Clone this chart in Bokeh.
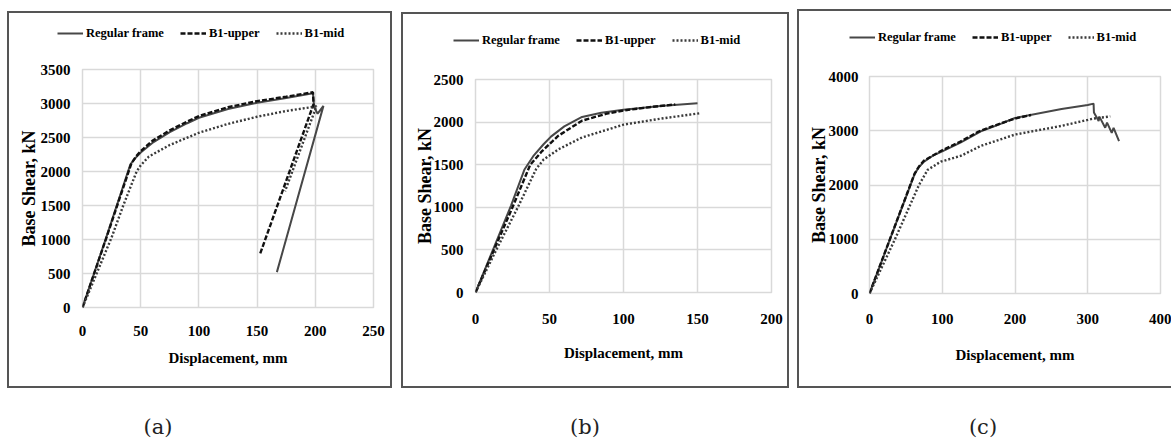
from bokeh.plotting import figure
from bokeh.models import Range1d, FixedTicker, Legend, LegendItem, Div
from bokeh.layouts import column, row
from bokeh.embed import file_html
from bokeh.resources import INLINE

# ---------------- data ----------------
series_names = ["Regular frame", "B1-upper", "B1-mid"]
x_title = "Displacement, mm"
y_title = "Base Shear, kN"
panel_labels = ["(a)", "(b)", "(c)"]

# panel (a)
a_regular_x = [0, 20, 41, 45, 50, 60, 75, 90, 100, 125, 150, 175, 198, 199, 202, 207, 167]
a_regular_y = [0, 1010, 2100, 2190, 2280, 2420, 2580, 2710, 2790, 2920, 3010, 3080, 3150, 2945, 2850, 2965, 520]
a_upper_x = [0, 20, 42, 46, 50, 60, 75, 90, 100, 125, 150, 175, 198, 198.5, 152.5]
a_upper_y = [0, 1000, 2120, 2220, 2300, 2450, 2605, 2735, 2815, 2945, 3035, 3100, 3165, 2990, 785]
a_mid_x = [0, 25, 35, 46.5, 50, 57, 75, 100, 125, 150, 175, 198, 201, 174]
a_mid_y = [0, 1030, 1500, 2000, 2090, 2220, 2390, 2570, 2700, 2805, 2890, 2950, 2960, 1710]
a_xticks = [0, 50, 100, 150, 200, 250]
a_yticks = [0, 500, 1000, 1500, 2000, 2500, 3000, 3500]

# panel (b)
b_regular_x = [0, 12, 24, 33, 39, 46, 51, 60, 72, 85, 100, 125, 150]
b_regular_y = [0, 510, 1020, 1440, 1600, 1740, 1830, 1950, 2060, 2110, 2145, 2190, 2222]
b_upper_x = [0, 12, 25, 37, 45, 56, 72, 88, 100, 120, 135]
b_upper_y = [0, 480, 1000, 1500, 1660, 1840, 2017, 2096, 2136, 2180, 2207]
b_mid_x = [0, 14, 28.6, 41, 46, 56, 72, 100, 125, 152]
b_mid_y = [0, 500, 1000, 1450, 1560, 1680, 1820, 1970, 2040, 2105]
b_xticks = [0, 50, 100, 150, 200]
b_yticks = [0, 500, 1000, 1500, 2000, 2500]

# panel (c)
c_regular_x = [0, 30, 62, 68, 75, 87, 100, 125, 153, 175, 200, 264, 300, 308, 308.5, 315, 316, 324, 326.5, 333, 335.5, 343]
c_regular_y = [0, 1065, 2200, 2330, 2430, 2540, 2620, 2780, 2990, 3100, 3235, 3400, 3475, 3500, 3335, 3180, 3260, 3055, 3149, 2962, 3055, 2807]
c_upper_x = [0, 30, 62, 68, 75, 100, 125, 150, 175, 200, 222]
c_upper_y = [0, 1070, 2210, 2340, 2450, 2640, 2800, 2985, 3110, 3225, 3290]
c_mid_x = [0, 35, 68, 80, 98, 126, 153, 200, 264, 300, 308, 331]
c_mid_y = [0, 1000, 2000, 2280, 2430, 2540, 2720, 2930, 3090, 3200, 3225, 3265]
c_xticks = [0, 100, 200, 300, 400]
c_yticks = [0, 1000, 2000, 3000, 4000]

FONT = "Liberation Serif"
GRID = "#d9d9d9"
EDGE = "2px solid #555"
LINE_STYLES = [dict(line_color="#474747", line_width=2),
               dict(line_color="#111111", line_width=2.4, line_dash="5 2"),
               dict(line_color="#3a3a3a", line_width=2.4, line_dash="2 2")]


def border_css(sides):
    css = {"box-sizing": "border-box"}
    for s in ("top", "right", "bottom", "left"):
        css[f"border-{s}"] = EDGE if s in sides else "none"
    return css


def make_legend_strip(series, width, height, loc, sides):
    # the series are drawn outside the strip's visible range: only the legend shows
    q = figure(width=width, height=height, output_backend="svg", toolbar_location=None,
               x_range=Range1d(-20, -10), y_range=Range1d(-20, -10),
               x_axis_type=None, y_axis_type=None,
               min_border=0, min_border_left=0, min_border_right=0, min_border_top=0,
               min_border_bottom=0, outline_line_color=None, background_fill_color="white",
               border_fill_color="white", styles=border_css(sides))
    rends = [q.line(xs, ys, **st) for (xs, ys), st in zip(series, LINE_STYLES)]
    legend = Legend(items=[LegendItem(label=n, renderers=[r]) for n, r in zip(series_names, rends)],
                    orientation="horizontal", location=loc,
                    border_line_color=None, background_fill_alpha=0, padding=0, margin=0,
                    spacing=16, label_standoff=3, glyph_width=26, glyph_height=16,
                    label_height=16, label_text_font=FONT, label_text_font_style="bold",
                    label_text_font_size="12.5px", label_text_color="#000000")
    q.add_layout(legend)
    return q


def make_panel(series, xticks, yticks, width, height, borders, lab_std, sides):
    left, right, top, bottom = borders
    p = figure(width=width, height=height, output_backend="svg", toolbar_location=None,
               x_range=Range1d(xticks[0], xticks[-1]), y_range=Range1d(yticks[0], yticks[-1]),
               min_border_left=left, min_border_right=right, min_border_top=top,
               min_border_bottom=bottom, background_fill_color="white",
               border_fill_color="white", outline_line_color=GRID, outline_line_width=1.5,
               styles=border_css(sides))
    for (xs, ys), st in zip(series, LINE_STYLES):
        p.line(xs, ys, **st)
    p.xaxis.ticker = FixedTicker(ticks=xticks)
    p.yaxis.ticker = FixedTicker(ticks=yticks)
    for ax in (p.xaxis, p.yaxis):
        ax.axis_line_color = None
        ax.major_tick_line_color = None
        ax.minor_tick_line_color = None
        ax.major_tick_out = 0
        ax.minor_tick_out = 0
        ax.major_tick_in = 0
        ax.minor_tick_in = 0
        ax.major_label_text_font = FONT
        ax.major_label_text_font_style = "bold"
        ax.major_label_text_font_size = "15px"
        ax.major_label_text_color = "#000000"
        ax.axis_label_text_font = FONT
        ax.axis_label_text_font_style = "bold"
        ax.axis_label_text_color = "#000000"
    p.xaxis.axis_label = x_title
    p.yaxis.axis_label = y_title
    p.xaxis.axis_label_text_font_size = "15px"
    p.yaxis.axis_label_text_font_size = "18px"
    xs_std, xl_std, ys_std, yl_std = lab_std
    p.xaxis.major_label_standoff = xs_std
    p.xaxis.axis_label_standoff = xl_std
    p.yaxis.major_label_standoff = ys_std
    p.yaxis.axis_label_standoff = yl_std
    p.xgrid.grid_line_color = GRID
    p.ygrid.grid_line_color = GRID
    p.xgrid.grid_line_width = 1.5
    p.ygrid.grid_line_width = 1.5
    return p


def label_div(text, mtop, mleft):
    return Div(text=f'<div style="font-family: \'DejaVu Serif\'; font-size: 21px; '
                    f'text-align: center; color: #222; width: 60px;">{text}</div>',
               width=60, height=26, margin=(mtop, 0, 0, mleft))


a_series = [(a_regular_x, a_regular_y), (a_upper_x, a_upper_y), (a_mid_x, a_mid_y)]
b_series = [(b_regular_x, b_regular_y), (b_upper_x, b_upper_y), (b_mid_x, b_mid_y)]
c_series = [(c_regular_x, c_regular_y), (c_upper_x, c_upper_y), (c_mid_x, c_mid_y)]

# panel (a)
la = make_legend_strip(a_series, 385, 46, (48, 18), ("top", "left", "right"))
la.margin = (11, 0, 0, 0)
pa = make_panel(a_series, a_xticks, a_yticks, 385, 331, (73, 21, 12, 81), (18, 11, 12, -1),
                ("left", "right", "bottom"))
da = label_div(panel_labels[0], 24, 121)

# panel (b)
lb = make_legend_strip(b_series, 388, 46, (50, 12), ("top", "left", "right"))
lb.margin = (12, 0, 0, 0)
pb = make_panel(b_series, b_xticks, b_yticks, 388, 330, (72, 20, 21, 96), (21, 18, 12, -4),
                ("left", "right", "bottom"))
db = label_div(panel_labels[1], 24, 154)

# panel (c)
lc = make_legend_strip(c_series, 374, 46, (50, 12), ("top", "left"))
lc.margin = (9, 0, 0, 0)
pc = make_panel(c_series, c_xticks, c_yticks, 374, 333, (70, 13, 21, 95), (20, 20, 11, -3),
                ("left", "bottom"))
dc = label_div(panel_labels[2], 24, 156)

layout = row(column(row(la), row(pa), da, margin=(0, 0, 0, 7)),
             column(row(lb), row(pb), db, margin=(0, 0, 0, 9)),
             column(row(lc), row(pc), dc, margin=(0, 0, 0, 8)))

open("out.html", "w").write(file_html(layout, INLINE))
